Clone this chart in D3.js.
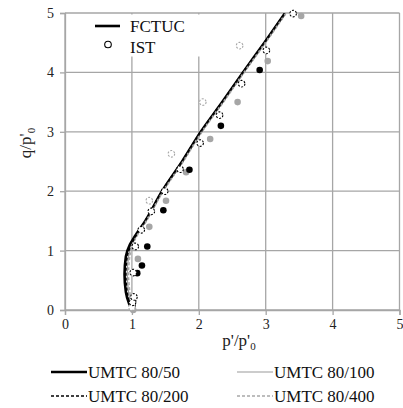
<!DOCTYPE html>
<meta charset="utf-8">
<script src="https://d3js.org/d3.v7.min.js"></script>
<style>
    body {margin:0; background:#fff;}
    svg text {font-family: "Liberation Serif", "Times New Roman", Times, "DejaVu Serif", serif;}
</style>
<body>
<svg width="403" height="408"></svg>
<script>
    // simulated curves (FCTUC): p'/p'0 at each q/p'0 level
    const qLevels = [0, 0.1, 0.3, 0.6, 0.9, 1.1, 1.25, 1.5, 2.0, 2.5, 3.0, 3.5, 4.0, 4.5, 5.0];
    const p50  = [1.0, 0.96, 0.91, 0.89, 0.91, 0.97, 1.05, 1.20, 1.45, 1.75, 2.03, 2.35, 2.66, 2.98, 3.29];
    const p100 = [1.0, 0.98, 0.95, 0.93, 0.95, 1.00, 1.07, 1.21, 1.46, 1.76, 2.04, 2.36, 2.67, 2.99, 3.30];
    const p200 = [1.0, 0.97, 0.93, 0.91, 0.93, 0.99, 1.06, 1.20, 1.45, 1.75, 2.03, 2.35, 2.66, 2.98, 3.29];
    const p400 = [1.0, 0.99, 0.97, 0.95, 0.97, 1.01, 1.08, 1.22, 1.47, 1.77, 2.05, 2.37, 2.68, 3.00, 3.31];

    // measured points (IST)
    const ist50p  = [1.01, 1.08, 1.15, 1.23, 1.47, 1.86, 2.33, 2.91];
    const ist50q  = [0.08, 0.62, 0.75, 1.07, 1.68, 2.36, 3.10, 4.04];
    const ist100p = [1.02, 1.09, 1.26, 1.51, 1.81, 2.17, 2.58, 3.03, 3.53];
    const ist100q = [0.0, 0.86, 1.40, 1.84, 2.32, 2.88, 3.50, 4.19, 4.95];
    const ist200p = [1.01, 1.03, 1.02, 1.05, 1.14, 1.29, 1.49, 1.72, 2.02, 2.31, 2.64, 3.01, 3.41];
    const ist200q = [0.13, 0.22, 0.63, 1.07, 1.35, 1.66, 2.00, 2.37, 2.81, 3.28, 3.81, 4.37, 4.99];
    const ist400p = [1.0, 1.02, 1.04, 1.26, 1.59, 2.06, 2.61];
    const ist400q = [0.05, 0.17, 1.07, 1.84, 2.63, 3.50, 4.45];

    const ticks = [0, 1, 2, 3, 4, 5];
    const series = ["UMTC 80/50", "UMTC 80/100", "UMTC 80/200", "UMTC 80/400"];

    const svg = d3.select("svg");
    const x = d3.scaleLinear().domain([0, 5]).range([65, 399.5]);
    const y = d3.scaleLinear().domain([0, 5]).range([310, 13]);
    const grid = "#a6a6a6";
    const serif = '"Liberation Serif", "Times New Roman", Times, "DejaVu Serif", serif';

    // grid
    svg.append("g").selectAll("line").data(ticks).enter().append("line")
        .attr("x1", d => x(d)).attr("x2", d => x(d))
        .attr("y1", y(0)).attr("y2", y(5))
        .attr("stroke", grid).attr("stroke-width", 1.3);
    svg.append("g").selectAll("line").data(ticks).enter().append("line")
        .attr("x1", x(0)).attr("x2", x(5))
        .attr("y1", d => y(d)).attr("y2", d => y(d))
        .attr("stroke", grid).attr("stroke-width", 1.3);

    // axes
    const xAxis = svg.append("g").attr("transform", "translate(0," + y(0) + ")")
        .call(d3.axisBottom(x).tickValues(ticks).tickSize(5).tickPadding(4).tickFormat(d3.format("d")));
    const yAxis = svg.append("g").attr("transform", "translate(" + x(0) + ",0)")
        .call(d3.axisLeft(y).tickValues(ticks).tickSize(5).tickPadding(6).tickFormat(d3.format("d")));
    [xAxis, yAxis].forEach(function(a){
        a.attr("font-family", serif).attr("font-size", 14);
        a.select(".domain").attr("stroke", grid).attr("stroke-width", 1.3);
        a.selectAll(".tick line").attr("stroke", grid).attr("stroke-width", 1.3);
        a.selectAll(".tick text").attr("fill", "#222");
    });

    // axis titles
    const xt = svg.append("text").attr("x", 239).attr("y", 346)
        .attr("text-anchor", "middle").style("font-size", "17px").attr("fill", "#222");
    xt.append("tspan").text("p'/p'");
    xt.append("tspan").text("0").attr("dy", 4).style("font-size", "11px");
    const yt = svg.append("text").attr("transform", "translate(31,143) rotate(-90)")
        .attr("text-anchor", "middle").style("font-size", "17px").attr("fill", "#222");
    yt.append("tspan").text("q/p'");
    yt.append("tspan").text("0").attr("dy", 4).style("font-size", "11px");

    const defs = svg.append("defs");
    defs.append("clipPath").attr("id", "plot").append("rect")
        .attr("x", x(0) - 10).attr("y", y(5)).attr("width", x(5) - x(0) + 20).attr("height", y(0) - y(5) + 10);

    // legend box (covers grid)
    svg.append("rect").attr("x", 84).attr("y", 14.5).attr("width", 118).attr("height", 42)
        .attr("fill", "#fff");

    const styles = [
        {stroke: "#000", w: 2.6, dash: null},
        {stroke: "#9a9a9a", w: 1.2, dash: null},
        {stroke: "#000", w: 1.6, dash: "3,2"},
        {stroke: "#a8a8a8", w: 1.4, dash: "3,2"}
    ];
    const curves = [p50, p100, p200, p400];
    const line = d3.line().x(d => x(d[0])).y(d => y(d[1])).curve(d3.curveMonotoneY);
    const gc = svg.append("g").attr("clip-path", "url(#plot)");
    [0, 1, 3, 2].forEach(function(i){
        gc.append("path").datum(curves[i].map((p, k) => [p, qLevels[k]]))
            .attr("d", line).attr("fill", "none")
            .attr("stroke", styles[i].stroke).attr("stroke-width", styles[i].w)
            .attr("stroke-dasharray", styles[i].dash);
    });

    // IST markers
    const pts = [
        {p: ist100p, q: ist100q, fill: "#a6a6a6", stroke: "none", dash: null},
        {p: ist50p, q: ist50q, fill: "#000", stroke: "none", dash: null},
        {p: ist400p, q: ist400q, fill: "#fff", stroke: "#a6a6a6", dash: "2,1.5"},
        {p: ist200p, q: ist200q, fill: "#fff", stroke: "#000", dash: "2,1.5"}
    ];
    pts.forEach(function(s){
        svg.append("g").selectAll("circle").data(s.p.map((p, k) => [p, s.q[k]])).enter()
            .append("circle")
            .attr("cx", d => x(d[0])).attr("cy", d => y(d[1])).attr("r", 3.3)
            .attr("fill", s.fill).attr("stroke", s.stroke).attr("stroke-width", 1.1)
            .attr("stroke-dasharray", s.dash);
    });

    // top legend
    svg.append("line").attr("x1", 95).attr("x2", 120).attr("y1", 26).attr("y2", 26)
        .attr("stroke", "#000").attr("stroke-width", 2.6);
    svg.append("text").attr("x", 130).attr("y", 32).text("FCTUC")
        .style("font-size", "17px").attr("fill", "#111");
    svg.append("circle").attr("cx", 108).attr("cy", 44.5).attr("r", 3.3)
        .attr("fill", "#fff").attr("stroke", "#000").attr("stroke-width", 1.1);
    svg.append("text").attr("x", 130).attr("y", 53).text("IST")
        .style("font-size", "17px").attr("fill", "#111");

    // bottom legend
    const lg = [[51, 372], [237, 372], [51, 396], [237, 396]];
    series.forEach(function(name, i){
        svg.append("line").attr("x1", lg[i][0]).attr("x2", lg[i][0] + 36)
            .attr("y1", lg[i][1]).attr("y2", lg[i][1])
            .attr("stroke", styles[i].stroke).attr("stroke-width", styles[i].w)
            .attr("stroke-dasharray", styles[i].dash);
        svg.append("text").attr("x", lg[i][0] + 37).attr("y", lg[i][1] + 6).text(name)
            .style("font-size", "17px").attr("fill", "#111");
    });
</script>
</body>
